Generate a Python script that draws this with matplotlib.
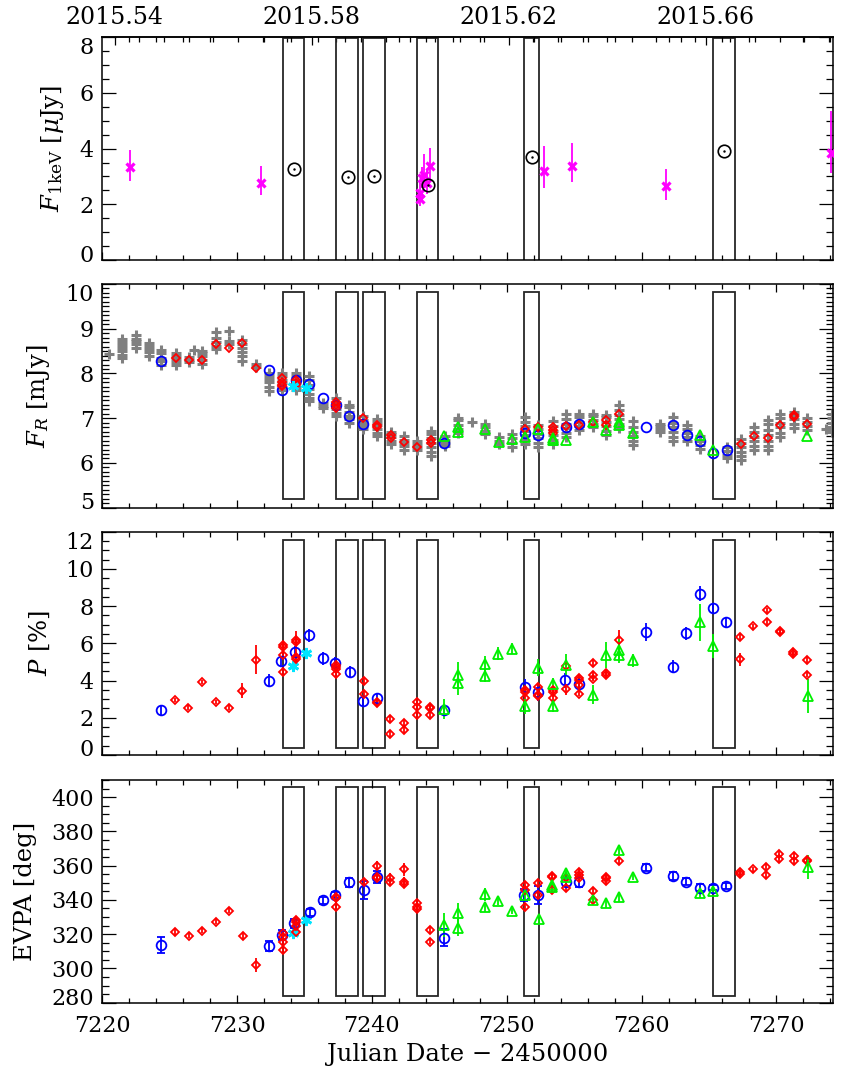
import numpy as np
import matplotlib.pyplot as plt
from matplotlib.patches import Rectangle
from matplotlib.ticker import MultipleLocator, FormatStrFormatter
from matplotlib.transforms import ScaledTranslation

plt.rcParams['font.family'] = 'DejaVu Serif'
plt.rcParams['mathtext.fontset'] = 'dejavuserif'
plt.rcParams['font.size'] = 17.5

# observing windows (JD - 2450000)
win_start = [7233.37, 7237.36, 7239.33, 7243.31, 7251.28, 7265.28]
win_end = [7234.98, 7239.00, 7240.98, 7244.91, 7252.37, 7266.90]

# top axis: decimal year
top_years = [2015.54, 2015.58, 2015.62, 2015.66]

# panel 1: X-ray flux density at 1 keV
xray_jd = [7234.19, 7238.19, 7240.17, 7244.19, 7251.85, 7266.10]
xray = [3.27, 2.99, 3.01, 2.69, 3.69, 3.92]
swift_jd = [7222.05, 7231.80, 7243.55, 7243.60, 7243.75, 7243.85, 7244.05, 7244.30,
            7252.79, 7254.81, 7261.80, 7274.07]
swift = [3.35, 2.78, 2.18, 2.42, 2.95, 3.05, 2.77, 3.39, 3.21, 3.39, 2.66, 3.83]
swift_lo = [0.52, 0.44, 0.25, 0.30, 0.35, 0.45, 0.40, 0.55, 0.62, 0.60, 0.50, 0.72]
swift_hi = [0.60, 0.58, 0.25, 0.35, 0.40, 0.75, 0.45, 0.62, 0.88, 0.80, 0.60, 1.52]

# panel 2: R-band flux density
gray_jd = [7220.49, 7221.48, 7222.47, 7223.46, 7224.33, 7225.44, 7226.43, 7226.79,
           7227.42, 7228.41, 7229.40, 7230.39, 7231.38, 7232.36, 7233.35, 7234.34,
           7235.33, 7236.37, 7237.31, 7238.32, 7239.36, 7240.35, 7241.39, 7242.38,
           7243.36, 7244.35, 7245.39, 7246.40, 7247.40, 7248.40, 7249.40, 7250.37,
           7251.35, 7252.34, 7253.40, 7254.40, 7255.39, 7256.38, 7257.37, 7258.36,
           7259.34, 7261.37, 7262.36, 7263.35, 7264.34, 7266.32, 7267.35, 7268.34,
           7269.40, 7270.30, 7271.30, 7272.28, 7273.70, 7274.10]
gray_vals = [
    [8.44],
    [8.35, 8.42, 8.50, 8.57, 8.63, 8.70, 8.76],
    [8.58, 8.65, 8.72, 8.78, 8.85],
    [8.40, 8.48, 8.55, 8.62, 8.68],
    [8.20, 8.28, 8.35, 8.45, 8.52],
    [8.18, 8.25, 8.32, 8.40, 8.45],
    [8.25, 8.30, 8.36],
    [8.52],
    [8.22, 8.30, 8.38, 8.45, 8.50],
    [8.55, 8.62, 8.70, 8.80, 8.92],
    [8.66, 8.72, 8.94],
    [8.28, 8.38, 8.48, 8.58, 8.66, 8.75],
    [8.15, 8.22],
    [7.60, 7.70, 7.80, 7.88, 7.95, 8.02],
    [7.62, 7.70, 7.78, 7.86, 7.94, 8.00],
    [7.62, 7.70, 7.78, 7.86, 7.95, 8.00],
    [7.38, 7.45, 7.55, 7.65, 7.75, 7.85, 7.95],
    [7.22, 7.28, 7.33],
    [7.05, 7.12, 7.20, 7.28, 7.35, 7.45],
    [6.90, 6.98, 7.05, 7.15, 7.25, 7.30],
    [6.75, 6.82, 6.90, 6.97, 7.05],
    [6.60, 6.68, 6.76, 6.84, 6.92, 6.98],
    [6.42, 6.50, 6.57, 6.64, 6.70],
    [6.30, 6.37, 6.45, 6.52, 6.60],
    [6.30, 6.36, 6.42, 6.48],
    [6.15, 6.25, 6.35, 6.45, 6.55, 6.65, 6.72],
    [6.38, 6.45, 6.52, 6.60],
    [6.66, 6.75, 6.85, 6.95, 7.00],
    [6.92],
    [6.65, 6.72, 6.80, 6.88],
    [6.42, 6.50, 6.58],
    [6.35, 6.45, 6.55, 6.65],
    [6.43, 6.52, 6.62, 6.72, 6.82, 6.92, 7.03],
    [6.36, 6.45, 6.55, 6.65, 6.75, 6.85],
    [6.43, 6.52, 6.62, 6.72, 6.82, 6.94],
    [6.58, 6.68, 6.78, 6.88, 6.98, 7.10],
    [6.73, 6.82, 6.92, 7.02, 7.10],
    [6.80, 6.88, 6.96, 7.05, 7.10],
    [6.62, 6.72, 6.82, 6.92, 7.02, 7.08],
    [6.78, 6.88, 6.98, 7.08, 7.18, 7.29],
    [6.41, 6.50, 6.60, 6.70, 6.80, 6.93],
    [6.70, 6.76, 6.82, 6.88],
    [6.49, 6.58, 6.70, 6.80, 6.90, 7.03],
    [6.49, 6.58, 6.66, 6.75, 6.85],
    [6.32, 6.40, 6.50, 6.60],
    [6.10, 6.18, 6.27, 6.35],
    [6.06, 6.15, 6.25, 6.35, 6.45, 6.53],
    [6.28, 6.38, 6.48, 6.58, 6.70, 6.80],
    [6.28, 6.38, 6.50, 6.62, 6.74, 6.86, 6.96],
    [6.58, 6.68, 6.80, 6.90, 7.00, 7.10],
    [6.78, 6.88, 6.98, 7.08, 7.14],
    [6.73, 6.82, 6.92, 7.00],
    [6.75],
    [6.70, 6.80, 6.90, 7.00, 7.10],
]
fr_blue_jd = [7224.33, 7232.36, 7233.35, 7234.34, 7235.33, 7236.37, 7237.31, 7238.32,
              7239.36, 7245.35, 7251.35, 7252.34, 7254.40, 7255.39, 7260.33, 7262.36,
              7263.35, 7264.34, 7265.33, 7266.32]
fr_blue = [8.29, 8.07, 7.62, 7.86, 7.77, 7.45, 7.30, 7.05, 6.88, 6.44, 6.66, 6.62,
           6.81, 6.88, 6.81, 6.85, 6.62, 6.49, 6.22, 6.28]
fr_red_jd = [7225.44, 7226.43, 7227.42, 7228.41, 7229.40, 7230.39, 7231.38,
             7233.35, 7233.35, 7233.35, 7233.35,
             7234.34, 7234.34, 7234.34,
             7237.31, 7237.31, 7237.31,
             7239.36, 7240.35, 7240.35, 7241.39, 7241.39, 7242.38, 7243.36, 7244.35, 7244.35,
             7251.35, 7252.34, 7253.40, 7253.40, 7253.40, 7254.40, 7255.39, 7256.38,
             7257.37, 7257.37, 7258.36,
             7267.35, 7268.34, 7269.40, 7270.30, 7271.30, 7271.30, 7272.28]
fr_red = [8.35, 8.30, 8.31, 8.66, 8.56, 8.69, 8.12,
          7.90, 7.82, 7.75, 7.71,
          7.86, 7.79, 7.75,
          7.37, 7.30, 7.22,
          7.00, 6.85, 6.81, 6.62, 6.55, 6.46, 6.36, 6.51, 6.45,
          6.76, 6.81, 6.81, 6.73, 6.66, 6.83, 6.85, 6.92, 6.96, 6.85, 7.09,
          6.43, 6.60, 6.55, 6.85, 7.07, 7.02, 6.88]
fr_green_jd = [7245.35, 7246.40, 7246.40, 7248.40, 7249.40, 7250.37, 7251.35, 7252.34,
               7253.40, 7253.40, 7254.40, 7256.38, 7257.37, 7258.36, 7258.36, 7259.34,
               7264.34, 7265.33, 7272.28]
fr_green = [6.60, 6.81, 6.69, 6.75, 6.47, 6.53, 6.58, 6.76, 6.55, 6.51, 6.51, 6.92,
            6.73, 6.92, 6.85, 6.67, 6.62, 6.28, 6.60]
fr_cyan_jd = [7234.12, 7235.11]
fr_cyan = [7.71, 7.67]

# panel 3: polarization degree
p_blue_jd = [7224.39, 7232.34, 7233.28, 7234.32, 7235.31, 7236.34, 7237.28, 7238.34,
             7239.33, 7240.37, 7245.36, 7251.36, 7252.35, 7254.32, 7255.38, 7260.32,
             7262.35, 7263.33, 7264.32, 7265.31, 7266.30]
p_blue = [2.41, 3.98, 5.04, 5.54, 6.43, 5.21, 4.95, 4.46, 2.91, 3.04, 2.41, 3.66,
          3.39, 4.02, 3.84, 6.61, 4.73, 6.55, 8.66, 7.89, 7.14]
p_blue_err = [0.30, 0.35, 0.30, 0.30, 0.35, 0.35, 0.30, 0.30, 0.25, 0.30, 0.30, 0.40,
              0.50, 0.40, 0.30, 0.50, 0.35, 0.35, 0.40, 0.30, 0.30]
p_red_jd = [7225.38, 7226.37, 7227.41, 7228.40, 7229.38, 7230.37, 7231.41,
            7233.38, 7233.38, 7233.38, 7233.38,
            7234.37, 7234.37, 7234.37, 7234.37,
            7237.36, 7237.36, 7237.36, 7237.36,
            7239.38, 7239.38, 7240.37, 7240.37, 7241.36, 7241.36, 7242.35, 7242.35,
            7243.33, 7243.33, 7243.33, 7244.32, 7244.32, 7244.32,
            7251.36, 7251.36, 7251.36, 7252.35, 7252.35, 7252.35, 7253.41, 7253.41, 7253.41,
            7254.37, 7254.37, 7255.38, 7255.38, 7255.38, 7255.38, 7256.37, 7256.37, 7256.37,
            7257.36, 7257.36, 7258.35,
            7267.30, 7267.30, 7268.29, 7269.28, 7269.28, 7270.27, 7270.27, 7271.26, 7271.26,
            7272.25, 7272.25]
p_red = [2.95, 2.55, 3.93, 2.86, 2.55, 3.45, 5.13,
         4.46, 5.36, 5.80, 5.90,
         6.16, 6.07, 5.27, 5.18,
         4.82, 4.73, 4.64, 4.34,
         3.98, 3.30, 2.86, 2.77, 1.93, 1.13, 1.73, 1.34,
         2.86, 2.59, 2.14, 2.59, 2.50, 2.14,
         3.48, 3.39, 3.09, 3.66, 3.25, 3.18, 3.48, 3.39, 3.04,
         3.54, 4.79, 4.14, 4.02, 3.75, 3.30, 4.96, 4.32, 4.11,
         4.43, 4.29, 6.16,
         6.34, 5.14, 6.91, 7.77, 7.14, 6.64, 6.61, 5.54, 5.41, 5.09, 4.32]
p_red_err = [0.12, 0.12, 0.12, 0.12, 0.12, 0.40, 0.76,
             0.20, 0.20, 0.25, 0.25,
             0.30, 0.60, 0.20, 0.20,
             0.15, 0.15, 0.15, 0.15,
             0.15, 0.15, 0.20, 0.15, 0.15, 0.15, 0.15, 0.15,
             0.15, 0.15, 0.15, 0.15, 0.15, 0.15,
             0.15, 0.15, 0.15, 0.20, 0.15, 0.15, 0.15, 0.15, 0.15,
             0.30, 0.15, 0.15, 0.15, 0.15, 0.15, 0.20, 0.15, 0.15,
             0.20, 0.15, 0.55,
             0.20, 0.35, 0.15, 0.15, 0.15, 0.12, 0.12, 0.15, 0.15, 0.15, 0.15]
p_green_jd = [7245.36, 7246.38, 7246.38, 7248.38, 7248.38, 7249.37, 7250.36, 7251.36,
              7252.35, 7253.41, 7253.41, 7254.40, 7256.37, 7257.36, 7258.35, 7258.35,
              7259.34, 7264.32, 7265.31, 7272.33]
p_green = [2.46, 4.29, 3.86, 4.91, 4.25, 5.45, 5.71, 2.63, 4.70, 3.84, 2.63, 4.82,
           3.25, 5.36, 5.63, 5.36, 5.09, 7.14, 5.84, 3.18]
p_green_err = [0.55, 0.70, 0.65, 0.40, 0.35, 0.35, 0.30, 0.40, 0.45, 0.30, 0.30, 0.60,
               0.50, 0.70, 0.60, 0.40, 0.35, 1.00, 0.65, 0.90]
p_cyan_jd = [7234.12, 7235.11]
p_cyan = [4.79, 5.48]

# panel 4: EVPA
ev_blue_jd = [7224.39, 7232.36, 7233.35, 7234.24, 7235.38, 7236.34, 7237.28, 7238.32,
              7239.38, 7240.37, 7245.36, 7251.31, 7252.35, 7254.37, 7255.38, 7260.32,
              7262.34, 7263.33, 7264.37, 7265.31, 7266.30]
ev_blue = [313.7, 313.3, 319.5, 326.3, 332.7, 339.9, 342.9, 350.2, 345.8, 353.2, 317.9,
           342.9, 342.9, 350.2, 350.6, 358.8, 354.0, 350.6, 347.1, 347.1, 348.1]
ev_blue_err = [4.5, 3, 3, 2.5, 2, 2, 2, 2.5, 5, 3.5, 5, 3.5, 5, 2, 3, 2, 2.5, 2, 2, 1.5, 1.5]
ev_red_jd = [7225.36, 7226.42, 7227.41, 7228.40, 7229.38, 7230.42, 7231.41,
             7233.40, 7233.40, 7233.40, 7233.40,
             7234.38, 7234.38, 7234.38, 7234.38,
             7237.37, 7237.37, 7237.37,
             7239.38, 7240.37, 7240.37, 7240.37, 7241.36, 7241.36, 7242.35, 7242.35, 7242.35,
             7243.34, 7243.34, 7243.34, 7244.33, 7244.33,
             7251.36, 7251.36, 7251.36, 7252.35, 7252.35, 7253.34, 7253.34, 7253.34,
             7254.37, 7254.37, 7255.38, 7255.38, 7255.38, 7256.37, 7256.37,
             7257.36, 7257.36, 7257.36, 7258.35,
             7267.28, 7267.28, 7268.27, 7269.26, 7269.26, 7270.20, 7270.20, 7271.28, 7271.28,
             7272.27, 7272.27]
ev_red = [321.1, 319.1, 322.0, 327.3, 333.7, 319.1, 302.0,
          320.5, 318.5, 315.6, 310.7,
          328.3, 327.3, 325.0, 321.1,
          341.9, 340.9, 336.0,
          350.6, 360.0, 353.2, 352.6, 352.6, 350.2, 357.8, 350.6, 349.3,
          338.0, 336.0, 334.7, 322.4, 315.6,
          348.7, 345.8, 336.0, 349.7, 342.9, 354.1, 353.6, 345.8,
          346.7, 352.6, 356.5, 354.5, 352.6, 345.4, 339.9,
          353.6, 352.6, 351.2, 362.7,
          356.1, 354.9, 358.0, 359.4, 354.5, 366.8, 363.7, 365.8, 362.9, 363.3, 362.7]
ev_red_err = [2, 1.5, 1.5, 1.5, 1.5, 2, 4,
              2, 2, 2, 2,
              2, 2, 2, 2,
              2, 2, 2,
              2, 2.5, 2, 2, 3, 2, 4, 3, 2,
              2, 2, 2, 2, 1.5,
              2, 2, 2, 2, 2, 2, 2, 2,
              2, 2, 2, 2, 2, 2, 2,
              2, 2, 2, 2,
              1.5, 1.5, 1.5, 2, 2, 2, 2, 2, 2, 2, 2]
ev_green_jd = [7245.36, 7246.42, 7246.42, 7248.40, 7248.40, 7249.38, 7250.37, 7251.36,
               7252.40, 7253.34, 7253.34, 7254.37, 7254.37, 7256.37, 7257.36, 7258.35,
               7258.35, 7259.38, 7264.37, 7265.31, 7272.35]
ev_green = [325.3, 332.2, 323.8, 343.2, 336.0, 339.3, 333.5, 342.9, 328.6, 348.7, 347.7,
            355.5, 353.6, 339.9, 338.0, 369.1, 341.9, 353.6, 344.1, 345.4, 359.4]
ev_green_err = [7, 6, 5, 4, 3, 2, 2, 3, 2, 2, 2, 3, 2, 3, 2.5, 2.5, 3, 2, 3, 2, 7]
ev_cyan_jd = [7234.12, 7235.11]
ev_cyan = [320.9, 328.3]

BLUE, RED, GREEN, CYAN, MAG, GRAY = '#0000ff', '#ff0000', '#00f000', '#00e5ff', '#ff00ff', '#808080'
TICKFS = 16

W, H = 842.0, 1069.0
fig = plt.figure(figsize=(W / 100, H / 100), dpi=100)


def panel(top, bot):
    ax = fig.add_axes([102.3 / W, 1 - bot / H, (833 - 102.3) / W, (bot - top) / H])
    ax.set_xlim(7220, 7274.2)
    ax.xaxis.set_major_locator(MultipleLocator(10))
    ax.xaxis.set_minor_locator(MultipleLocator(2))
    ax.tick_params(which='both', direction='in', top=True, right=True, width=0.9,
                   labelsize=TICKFS)
    ax.tick_params(axis='y', which='major', length=10, pad=6)
    ax.tick_params(axis='y', which='minor', length=5)
    ax.tick_params(axis='x', which='major', length=6, pad=9)
    ax.tick_params(axis='x', which='minor', length=3.5)
    for s in ax.spines.values():
        s.set_linewidth(1.1)
    return ax


def yaxis(ax, lo, hi, major, minor, top=None):
    ax.set_ylim(lo, hi)
    ax.set_yticks(np.arange(lo, (hi if top is None else top) + 1e-6, major))
    ax.yaxis.set_minor_locator(MultipleLocator(minor))


def shift_label(ax, idx, dy_px):
    # tick labels sitting on the frame edge are pushed inside, as in the original
    lbl = ax.yaxis.get_major_ticks()[idx].label1
    lbl.set_transform(lbl.get_transform() + ScaledTranslation(0, dy_px / 100, fig.dpi_scale_trans))


def windows(ax, y0, y1):
    for s, e in zip(win_start, win_end):
        ax.add_patch(Rectangle((s, y0), e - s, y1 - y0, fill=False,
                               ec='0.15', lw=1.3, zorder=1))


def errpts(ax, x, y, err, marker, color, ms, cap=0):
    ax.errorbar(x, y, yerr=err, fmt=marker, mfc='none', mec=color, ecolor=color,
                ms=ms, mew=1.3, elinewidth=1.3, capsize=cap, capthick=1.3, zorder=3)


# ---- panel 1
ax1 = panel(37.3, 260.0)
yaxis(ax1, 0, 8, 2, 0.5)
windows(ax1, -0.05, 7.96)
ax1.errorbar(swift_jd, swift, yerr=[swift_lo, swift_hi], fmt='x', color=MAG,
             ms=6, mew=2.3, elinewidth=1.3, zorder=3)
ax1.plot(xray_jd, xray, 'o', mfc='none', mec='k', ms=9, mew=1.2, zorder=4)
ax1.plot(xray_jd, xray, '.', color='k', ms=1.5, zorder=4)
ax1.tick_params(top=False, labelbottom=False)
ax1.set_ylabel(r'$F_{\rm 1keV}$ [$\mu$Jy]', labelpad=10)

sec = ax1.secondary_xaxis('top', functions=(lambda x: 2015.54 + (x - 7220.93) / 365.25,
                                             lambda y: 7220.93 + (y - 2015.54) * 365.25))
sec.set_xticks(top_years)
sec.xaxis.set_minor_locator(MultipleLocator(0.005))
sec.xaxis.set_major_formatter(FormatStrFormatter('%.2f'))
sec.tick_params(which='both', direction='in', width=0.9, labelsize=TICKFS + 1, pad=6)
sec.tick_params(which='major', length=6)
sec.tick_params(which='minor', length=3.5)
sec.spines['top'].set_linewidth(1.1)

# ---- panel 2
ax2 = panel(284.0, 507.7)
yaxis(ax2, 5, 10, 1, 0.1)
windows(ax2, 5.19, 9.83)
gx = [jd for jd, v in zip(gray_jd, gray_vals) for _ in v]
gy = [y for v in gray_vals for y in v]
ax2.plot(gx, gy, '+', color=GRAY, ms=7, mew=2.2, zorder=2)
ax2.plot(fr_blue_jd, fr_blue, 'o', mfc='none', mec=BLUE, ms=7, mew=1.3, zorder=3)
ax2.plot(fr_red_jd, fr_red, 'D', mfc='none', mec=RED, ms=4.5, mew=1.3, zorder=3)
ax2.plot(fr_green_jd, fr_green, '^', mfc='none', mec=GREEN, ms=6.5, mew=1.3, zorder=3)
ax2.plot(fr_cyan_jd, fr_cyan, marker=(6, 2, 0), ls='none', color=CYAN, ms=8, mew=2, zorder=3)
ax2.tick_params(labelbottom=False)
ax2.set_ylabel(r'$F_R$ [mJy]', labelpad=10)

# ---- panel 3
ax3 = panel(531.7, 755.0)
yaxis(ax3, 0, 12, 2, 0.5)
windows(ax3, 0.4, 11.56)
errpts(ax3, p_blue_jd, p_blue, p_blue_err, 'o', BLUE, 7)
errpts(ax3, p_red_jd, p_red, p_red_err, 'D', RED, 4.5)
errpts(ax3, p_green_jd, p_green, p_green_err, '^', GREEN, 6.5)
ax3.plot(p_cyan_jd, p_cyan, marker=(6, 2, 0), ls='none', color=CYAN, ms=8, mew=2, zorder=3)
ax3.tick_params(labelbottom=False)
ax3.set_ylabel(r'$P$ [%]', labelpad=10)

# ---- panel 4
ax4 = panel(780.0, 1002.7)
yaxis(ax4, 280, 410, 20, 5, top=400)
windows(ax4, 284, 405.7)
errpts(ax4, ev_blue_jd, ev_blue, ev_blue_err, 'o', BLUE, 7, cap=3)
errpts(ax4, ev_red_jd, ev_red, ev_red_err, 'D', RED, 4.5)
errpts(ax4, ev_green_jd, ev_green, ev_green_err, '^', GREEN, 6.5)
ax4.plot(ev_cyan_jd, ev_cyan, marker=(6, 2, 0), ls='none', color=CYAN, ms=8, mew=2, zorder=3)
ax4.set_ylabel('EVPA [deg]', labelpad=10)
ax4.set_xlabel('Julian Date \u2212 2450000', labelpad=4)

for ax in (ax1, ax2, ax3):
    shift_label(ax, 0, 7)
    shift_label(ax, -1, -8.5)
shift_label(ax4, 0, 6)

fig.savefig('out.png', dpi=100)
